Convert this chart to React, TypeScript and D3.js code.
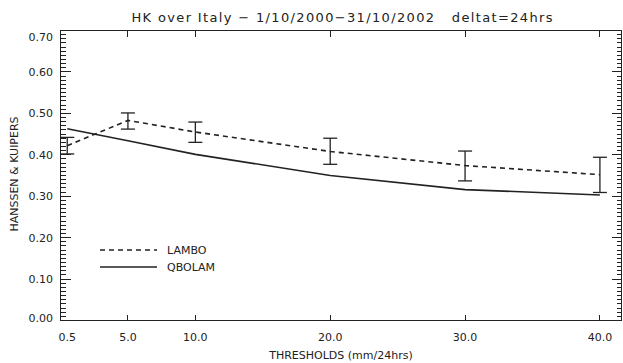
import React from "react";
import * as d3 from "d3";

const thresholds = [0.5, 5, 10, 20, 30, 40];
const xTickLabels = ["0.5", "5.0", "10.0", "20.0", "30.0", "40.0"];
const yTicks = [0, 0.1, 0.2, 0.3, 0.4, 0.5, 0.6, 0.7];
const lamboValues = [0.422, 0.483, 0.455, 0.408, 0.374, 0.352];
const lamboLow = [0.402, 0.462, 0.43, 0.377, 0.337, 0.309];
const lamboHigh = [0.442, 0.501, 0.479, 0.44, 0.409, 0.394];
const qbolamValues = [0.463, 0.434, 0.401, 0.35, 0.316, 0.303];
const seriesNames = ["LAMBO", "QBOLAM"];
const titleText = "HK over Italy \u2212 1/10/2000\u221231/10/2002   deltat=24hrs";
const xLabel = "THRESHOLDS (mm/24hrs)";
const yLabel = "HANSSEN & KUIPERS";

const W = 623;
const H = 363;
const L = 60.5, R = 621.5, T = 30.5, B = 320.5;
const font = "'DejaVu Sans', sans-serif";
const ink = "#222";

export default function App() {
  const x = d3.scaleLinear().domain([0, 41.6]).range([L, R]);
  const y = d3.scaleLinear().domain([0, 0.7]).range([B, T]);
  const line = d3
    .line<number>()
    .x((_, i) => x(thresholds[i]))
    .y((d) => y(d));
  const minorTicks = y.ticks(70);
  const xMajor = thresholds.slice(1);
  const snap = (v: number) => Math.round(v - 0.5) + 0.5;

  return (
    <svg
      width={W}
      height={H}
      style={{ position: "fixed", left: 0, top: 0, background: "#fff" }}
      fontFamily={font}
    >
      <rect x={0} y={0} width={W} height={H} fill="#fff" />
      <text
        x={342}
        y={22}
        textAnchor="middle"
        fontSize={13}
        fill={ink}
        style={{ whiteSpace: "pre" }}
        textLength={421}
        lengthAdjust="spacing"
      >
        {titleText}
      </text>
      <rect x={L} y={T} width={R - L} height={B - T} fill="none" stroke={ink} strokeWidth={1} shapeRendering="crispEdges" />
      {minorTicks.map((v, i) => {
        const major = Math.abs(v * 10 - Math.round(v * 10)) < 1e-6;
        const len = major ? 10 : 5;
        const yy = snap(y(v));
        return (
          <g key={"t" + i} stroke={ink} strokeWidth={1} shapeRendering="crispEdges">
            <line x1={L} x2={L + len} y1={yy} y2={yy} />
            <line x1={R} x2={R - len} y1={yy} y2={yy} />
          </g>
        );
      })}
      {xMajor.map((v) => {
        const xx = snap(x(v));
        return (
          <g key={"xt" + v} stroke={ink} strokeWidth={1} shapeRendering="crispEdges">
            <line x1={xx} x2={xx} y1={B} y2={B - 6} />
            <line x1={xx} x2={xx} y1={T} y2={T + 6} />
          </g>
        );
      })}
      {thresholds.map((v, i) => (
        <text key={"xl" + v} x={x(v)} y={341} textAnchor="middle" fontSize={11} fill={ink}>
          {xTickLabels[i]}
        </text>
      ))}
      {yTicks.map((v, i) => {
        let dy = 4;
        if (i === 0) dy = 1;
        if (i === yTicks.length - 1) dy = 10;
        return (
          <text key={"yl" + i} x={53} y={y(v) + dy} textAnchor="end" fontSize={11} fill={ink}>
            {d3.format(".2f")(v)}
          </text>
        );
      })}
      <text x={341} y={359} textAnchor="middle" fontSize={11} fill={ink}>
        {xLabel}
      </text>
      <text transform={`translate(18,174) rotate(-90)`} textAnchor="middle" fontSize={11} fill={ink}>
        {yLabel}
      </text>
      <path d={line(lamboValues) || ""} fill="none" stroke={ink} strokeWidth={1.6} strokeDasharray="5,4" />
      <path d={line(qbolamValues) || ""} fill="none" stroke={ink} strokeWidth={1.6} />
      {thresholds.map((v, i) => (
        <g key={"e" + v} stroke={ink} strokeWidth={1.3}>
          <line x1={x(v)} x2={x(v)} y1={y(lamboLow[i])} y2={y(lamboHigh[i])} />
          <line x1={x(v) - 7} x2={x(v) + 7} y1={y(lamboLow[i])} y2={y(lamboLow[i])} />
          <line x1={x(v) - 7} x2={x(v) + 7} y1={y(lamboHigh[i])} y2={y(lamboHigh[i])} />
        </g>
      ))}
      <line x1={100} x2={157} y1={250} y2={250} stroke={ink} strokeWidth={1.6} strokeDasharray="5,4" />
      <line x1={100} x2={157} y1={267} y2={267} stroke={ink} strokeWidth={1.6} />
      <text x={167} y={254} fontSize={11} fill={ink}>
        {seriesNames[0]}
      </text>
      <text x={167} y={271} fontSize={11} fill={ink}>
        {seriesNames[1]}
      </text>
    </svg>
  );
}
